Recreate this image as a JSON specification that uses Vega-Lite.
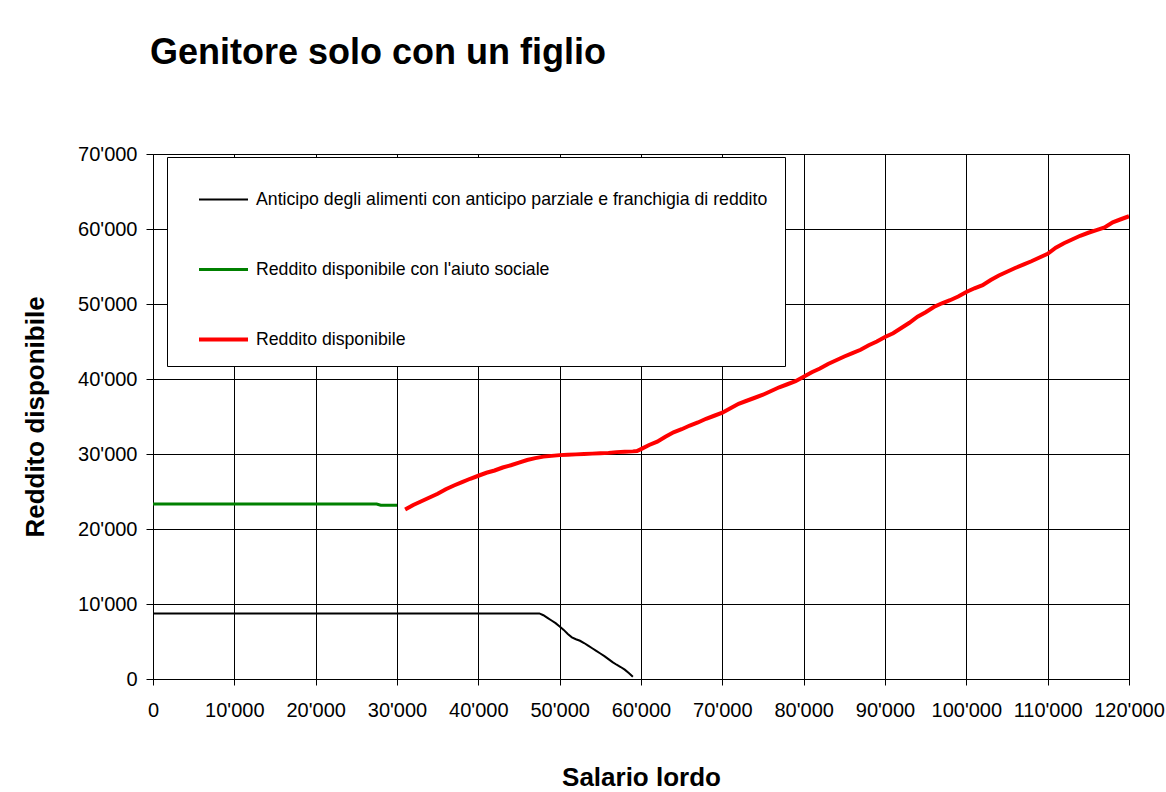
{
  "$schema": "https://vega.github.io/schema/vega-lite/v6.json",
  "width": 976,
  "height": 525,
  "autosize": {"type": "none"},
  "padding": {"left": 153, "top": 154, "right": 37, "bottom": 113},
  "background": "white",
  "title": {
    "text": "Genitore solo con un figlio",
    "anchor": "start",
    "frame": "group",
    "font": "Liberation Sans",
    "fontSize": 36,
    "fontWeight": "bold",
    "color": "black",
    "baseline": "alphabetic",
    "offset": 44,
    "dx": -3
  },
  "data": {
    "values": [
      {"s": "Anticipo degli alimenti con anticipo parziale e franchigia di reddito", "x": 0, "y": 8750},
      {"s": "Anticipo degli alimenti con anticipo parziale e franchigia di reddito", "x": 47500, "y": 8750},
      {"s": "Anticipo degli alimenti con anticipo parziale e franchigia di reddito", "x": 48000, "y": 8500},
      {"s": "Anticipo degli alimenti con anticipo parziale e franchigia di reddito", "x": 48500, "y": 8150},
      {"s": "Anticipo degli alimenti con anticipo parziale e franchigia di reddito", "x": 49000, "y": 7800},
      {"s": "Anticipo degli alimenti con anticipo parziale e franchigia di reddito", "x": 49500, "y": 7450},
      {"s": "Anticipo degli alimenti con anticipo parziale e franchigia di reddito", "x": 50000, "y": 7000},
      {"s": "Anticipo degli alimenti con anticipo parziale e franchigia di reddito", "x": 50500, "y": 6550},
      {"s": "Anticipo degli alimenti con anticipo parziale e franchigia di reddito", "x": 51000, "y": 6000},
      {"s": "Anticipo degli alimenti con anticipo parziale e franchigia di reddito", "x": 51500, "y": 5550},
      {"s": "Anticipo degli alimenti con anticipo parziale e franchigia di reddito", "x": 52000, "y": 5300},
      {"s": "Anticipo degli alimenti con anticipo parziale e franchigia di reddito", "x": 52500, "y": 5100},
      {"s": "Anticipo degli alimenti con anticipo parziale e franchigia di reddito", "x": 53000, "y": 4800},
      {"s": "Anticipo degli alimenti con anticipo parziale e franchigia di reddito", "x": 53500, "y": 4450},
      {"s": "Anticipo degli alimenti con anticipo parziale e franchigia di reddito", "x": 54000, "y": 4100},
      {"s": "Anticipo degli alimenti con anticipo parziale e franchigia di reddito", "x": 54500, "y": 3750},
      {"s": "Anticipo degli alimenti con anticipo parziale e franchigia di reddito", "x": 55000, "y": 3400},
      {"s": "Anticipo degli alimenti con anticipo parziale e franchigia di reddito", "x": 55500, "y": 3050},
      {"s": "Anticipo degli alimenti con anticipo parziale e franchigia di reddito", "x": 56000, "y": 2650},
      {"s": "Anticipo degli alimenti con anticipo parziale e franchigia di reddito", "x": 56500, "y": 2250},
      {"s": "Anticipo degli alimenti con anticipo parziale e franchigia di reddito", "x": 57000, "y": 1900},
      {"s": "Anticipo degli alimenti con anticipo parziale e franchigia di reddito", "x": 57500, "y": 1600},
      {"s": "Anticipo degli alimenti con anticipo parziale e franchigia di reddito", "x": 58000, "y": 1250},
      {"s": "Anticipo degli alimenti con anticipo parziale e franchigia di reddito", "x": 58500, "y": 800},
      {"s": "Anticipo degli alimenti con anticipo parziale e franchigia di reddito", "x": 59000, "y": 300},
      {"s": "Reddito disponibile con l'aiuto sociale", "x": 0, "y": 23330},
      {"s": "Reddito disponibile con l'aiuto sociale", "x": 27500, "y": 23330},
      {"s": "Reddito disponibile con l'aiuto sociale", "x": 28000, "y": 23160},
      {"s": "Reddito disponibile con l'aiuto sociale", "x": 30000, "y": 23160},
      {"s": "Reddito disponibile", "x": 31000, "y": 22600},
      {"s": "Reddito disponibile", "x": 32000, "y": 23200},
      {"s": "Reddito disponibile", "x": 33000, "y": 23700},
      {"s": "Reddito disponibile", "x": 34000, "y": 24200},
      {"s": "Reddito disponibile", "x": 35000, "y": 24700},
      {"s": "Reddito disponibile", "x": 36000, "y": 25300},
      {"s": "Reddito disponibile", "x": 37000, "y": 25800},
      {"s": "Reddito disponibile", "x": 38000, "y": 26250},
      {"s": "Reddito disponibile", "x": 39000, "y": 26700},
      {"s": "Reddito disponibile", "x": 40000, "y": 27100},
      {"s": "Reddito disponibile", "x": 41000, "y": 27500},
      {"s": "Reddito disponibile", "x": 42000, "y": 27800},
      {"s": "Reddito disponibile", "x": 43000, "y": 28200},
      {"s": "Reddito disponibile", "x": 44000, "y": 28500},
      {"s": "Reddito disponibile", "x": 45000, "y": 28850},
      {"s": "Reddito disponibile", "x": 46000, "y": 29200},
      {"s": "Reddito disponibile", "x": 47000, "y": 29450},
      {"s": "Reddito disponibile", "x": 48000, "y": 29650},
      {"s": "Reddito disponibile", "x": 49000, "y": 29750},
      {"s": "Reddito disponibile", "x": 50000, "y": 29850},
      {"s": "Reddito disponibile", "x": 51000, "y": 29900},
      {"s": "Reddito disponibile", "x": 52000, "y": 29950},
      {"s": "Reddito disponibile", "x": 53000, "y": 30000},
      {"s": "Reddito disponibile", "x": 54000, "y": 30050},
      {"s": "Reddito disponibile", "x": 55000, "y": 30100},
      {"s": "Reddito disponibile", "x": 56000, "y": 30150},
      {"s": "Reddito disponibile", "x": 57000, "y": 30250},
      {"s": "Reddito disponibile", "x": 58000, "y": 30300},
      {"s": "Reddito disponibile", "x": 59000, "y": 30350},
      {"s": "Reddito disponibile", "x": 59500, "y": 30400},
      {"s": "Reddito disponibile", "x": 60000, "y": 30650},
      {"s": "Reddito disponibile", "x": 61000, "y": 31200},
      {"s": "Reddito disponibile", "x": 62000, "y": 31650},
      {"s": "Reddito disponibile", "x": 63000, "y": 32300},
      {"s": "Reddito disponibile", "x": 64000, "y": 32900},
      {"s": "Reddito disponibile", "x": 65000, "y": 33300},
      {"s": "Reddito disponibile", "x": 66000, "y": 33800},
      {"s": "Reddito disponibile", "x": 67000, "y": 34200},
      {"s": "Reddito disponibile", "x": 68000, "y": 34700},
      {"s": "Reddito disponibile", "x": 69000, "y": 35100},
      {"s": "Reddito disponibile", "x": 70000, "y": 35500},
      {"s": "Reddito disponibile", "x": 71000, "y": 36100},
      {"s": "Reddito disponibile", "x": 72000, "y": 36700},
      {"s": "Reddito disponibile", "x": 73000, "y": 37100},
      {"s": "Reddito disponibile", "x": 74000, "y": 37500},
      {"s": "Reddito disponibile", "x": 75000, "y": 37900},
      {"s": "Reddito disponibile", "x": 76000, "y": 38400},
      {"s": "Reddito disponibile", "x": 77000, "y": 38900},
      {"s": "Reddito disponibile", "x": 78000, "y": 39300},
      {"s": "Reddito disponibile", "x": 79000, "y": 39700},
      {"s": "Reddito disponibile", "x": 80000, "y": 40300},
      {"s": "Reddito disponibile", "x": 81000, "y": 40900},
      {"s": "Reddito disponibile", "x": 82000, "y": 41400},
      {"s": "Reddito disponibile", "x": 83000, "y": 42000},
      {"s": "Reddito disponibile", "x": 84000, "y": 42500},
      {"s": "Reddito disponibile", "x": 85000, "y": 43000},
      {"s": "Reddito disponibile", "x": 86000, "y": 43450},
      {"s": "Reddito disponibile", "x": 87000, "y": 43900},
      {"s": "Reddito disponibile", "x": 88000, "y": 44500},
      {"s": "Reddito disponibile", "x": 89000, "y": 45000},
      {"s": "Reddito disponibile", "x": 90000, "y": 45600},
      {"s": "Reddito disponibile", "x": 91000, "y": 46100},
      {"s": "Reddito disponibile", "x": 92000, "y": 46800},
      {"s": "Reddito disponibile", "x": 93000, "y": 47500},
      {"s": "Reddito disponibile", "x": 94000, "y": 48300},
      {"s": "Reddito disponibile", "x": 95000, "y": 48900},
      {"s": "Reddito disponibile", "x": 96000, "y": 49600},
      {"s": "Reddito disponibile", "x": 97000, "y": 50100},
      {"s": "Reddito disponibile", "x": 98000, "y": 50500},
      {"s": "Reddito disponibile", "x": 99000, "y": 51000},
      {"s": "Reddito disponibile", "x": 100000, "y": 51600},
      {"s": "Reddito disponibile", "x": 101000, "y": 52100},
      {"s": "Reddito disponibile", "x": 102000, "y": 52500},
      {"s": "Reddito disponibile", "x": 103000, "y": 53200},
      {"s": "Reddito disponibile", "x": 104000, "y": 53800},
      {"s": "Reddito disponibile", "x": 105000, "y": 54300},
      {"s": "Reddito disponibile", "x": 106000, "y": 54800},
      {"s": "Reddito disponibile", "x": 107000, "y": 55250},
      {"s": "Reddito disponibile", "x": 108000, "y": 55700},
      {"s": "Reddito disponibile", "x": 109000, "y": 56200},
      {"s": "Reddito disponibile", "x": 110000, "y": 56700},
      {"s": "Reddito disponibile", "x": 111000, "y": 57500},
      {"s": "Reddito disponibile", "x": 112000, "y": 58100},
      {"s": "Reddito disponibile", "x": 113000, "y": 58600},
      {"s": "Reddito disponibile", "x": 114000, "y": 59100},
      {"s": "Reddito disponibile", "x": 115000, "y": 59500},
      {"s": "Reddito disponibile", "x": 116000, "y": 59850},
      {"s": "Reddito disponibile", "x": 117000, "y": 60200},
      {"s": "Reddito disponibile", "x": 118000, "y": 60900},
      {"s": "Reddito disponibile", "x": 119000, "y": 61300},
      {"s": "Reddito disponibile", "x": 120000, "y": 61700}
    ]
  },
  "mark": {"type": "line", "interpolate": "linear", "clip": true},
  "encoding": {
    "x": {
      "field": "x",
      "type": "quantitative",
      "scale": {"domain": [0, 120000], "nice": false, "zero": false},
      "axis": {
        "title": "Salario lordo",
        "values": [0, 10000, 20000, 30000, 40000, 50000, 60000, 70000, 80000, 90000, 100000, 110000, 120000],
        "labelExpr": "replace(format(datum.value, ','), ',', \"'\")",
        "titleY": 106,
        "titleBaseline": "alphabetic",
        "labelPadding": 15,
        "tickSize": 6
      }
    },
    "y": {
      "field": "y",
      "type": "quantitative",
      "scale": {"domain": [0, 70000], "nice": false},
      "axis": {
        "title": "Reddito disponibile",
        "values": [0, 10000, 20000, 30000, 40000, 50000, 60000, 70000],
        "labelExpr": "replace(format(datum.value, ','), ',', \"'\")",
        "titleX": -110,
        "titleBaseline": "alphabetic",
        "labelPadding": 9,
        "tickSize": 7
      }
    },
    "color": {
      "field": "s",
      "type": "nominal",
      "scale": {
        "domain": ["Anticipo degli alimenti con anticipo parziale e franchigia di reddito", "Reddito disponibile con l'aiuto sociale", "Reddito disponibile"],
        "range": ["#000000", "#008000", "#ff0000"]
      },
      "legend": {
        "title": null,
        "orient": "none",
        "legendX": 14,
        "legendY": 3,
        "fillColor": "white",
        "strokeColor": "black",
        "padding": 17,
        "rowPadding": 34.5,
        "symbolType": "stroke",
        "symbolSize": 2401,
        "symbolStrokeWidth": 3,
        "symbolOffset": 13,
        "labelOffset": 6,
        "labelFont": "Liberation Sans",
        "labelFontSize": 17.7,
        "labelColor": "black",
        "labelLimit": 800
      }
    },
    "strokeWidth": {
      "field": "s",
      "type": "nominal",
      "scale": {
        "domain": ["Anticipo degli alimenti con anticipo parziale e franchigia di reddito", "Reddito disponibile con l'aiuto sociale", "Reddito disponibile"],
        "range": [2, 4, 4.5]
      },
      "legend": null
    }
  },
  "config": {
    "view": {"stroke": "#808080", "strokeWidth": 1},
    "axis": {
      "domainColor": "black",
      "domainWidth": 1,
      "gridColor": "black",
      "gridWidth": 1,
      "gridOpacity": 1,
      "tickColor": "black",
      "tickWidth": 1,
      "labelFont": "Liberation Sans",
      "labelFontSize": 20,
      "labelColor": "black",
      "titleFont": "Liberation Sans",
      "titleFontSize": 26,
      "titleFontWeight": "bold",
      "titleColor": "black",
      "labelOverlap": false,
      "labelFlush": false
    }
  }
}
